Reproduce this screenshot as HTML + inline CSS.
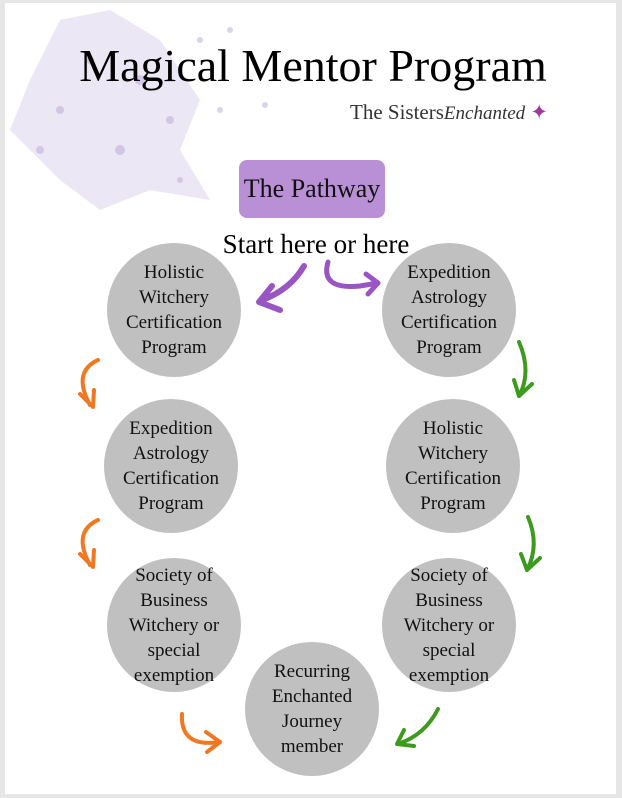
<!DOCTYPE html>
<html><head><meta charset="utf-8"><style>
html,body{margin:0;padding:0;}
body{width:622px;height:798px;background:#e6e6e6;position:relative;overflow:hidden;font-family:"Liberation Serif",serif;}
.page{position:absolute;left:5px;top:3px;width:611px;height:791px;background:#fff;}
.c{position:absolute;width:134px;height:134px;border-radius:50%;background:#c0c0c0;display:flex;align-items:center;justify-content:center;text-align:center;font-size:19px;line-height:25px;color:#111;}
.t{position:absolute;width:100%;text-align:center;color:#000;}
</style></head><body>
<div class="page"></div>
<svg width="622" height="798" style="position:absolute;left:0;top:0">
<g fill="#d8d0ea" opacity="0.5">
<polygon points="60,20 110,10 160,40 200,100 180,150 210,200 150,190 100,210 60,180 10,130 30,80"/>
</g>
<g fill="#b9a9d8" opacity="0.5">
<circle cx="90" cy="60" r="4"/><circle cx="140" cy="80" r="5"/><circle cx="60" cy="110" r="4"/><circle cx="120" cy="150" r="5"/><circle cx="170" cy="120" r="4"/><circle cx="200" cy="40" r="3"/><circle cx="230" cy="30" r="3"/><circle cx="180" cy="180" r="3"/><circle cx="40" cy="150" r="4"/><circle cx="220" cy="110" r="3"/><circle cx="265" cy="105" r="3"/>
</g>
<g fill="none" stroke-linecap="round" stroke-linejoin="round">
<path d="M304,266 Q290,290 262,300" stroke="#9a55c4" stroke-width="6"/>
<path d="M272,286 L259,302 L280,310" stroke="#9a55c4" stroke-width="6"/>
<path d="M328,262 Q320,290 360,286 L378,283" stroke="#9a55c4" stroke-width="5"/>
<path d="M366,274 L378,283 L368,294" stroke="#9a55c4" stroke-width="5"/>
<path d="M98,360 Q72,372 90,405" stroke="#f07820" stroke-width="4"/>
<path d="M80,394 L93,407 L94,390" stroke="#f07820" stroke-width="4"/>
<path d="M98,520 Q72,532 90,565" stroke="#f07820" stroke-width="4"/>
<path d="M80,554 L93,567 L94,550" stroke="#f07820" stroke-width="4"/>
<path d="M182,714 Q180,748 220,742" stroke="#f07820" stroke-width="4"/>
<path d="M206,732 L220,742 L207,752" stroke="#f07820" stroke-width="4"/>
<path d="M519,342 Q532,372 519,396" stroke="#3e9a1e" stroke-width="4"/>
<path d="M514,380 L519,396 L532,384" stroke="#3e9a1e" stroke-width="4"/>
<path d="M528,517 Q540,545 527,570" stroke="#3e9a1e" stroke-width="4"/>
<path d="M521,554 L527,570 L540,558" stroke="#3e9a1e" stroke-width="4"/>
<path d="M438,709 Q425,735 398,744" stroke="#3e9a1e" stroke-width="4"/>
<path d="M404,730 L397,744 L414,746" stroke="#3e9a1e" stroke-width="4"/>
</g>
</svg>
<div class="t" style="top:38px;font-size:46px;line-height:56px;left:2px;">Magical Mentor Program</div>
<div style="position:absolute;left:350px;top:100px;font-size:21px;color:#333;">The Sisters<i style="font-size:19px">Enchanted</i> <span style="color:#9a3aa0">✦</span></div>
<div style="position:absolute;left:239px;top:160px;width:146px;height:58px;border-radius:8px;background:#b98fd6;font-size:26px;line-height:58px;text-align:center;color:#111;">The Pathway</div>
<div class="t" style="top:228px;font-size:27px;line-height:32px;left:5px;">Start here or here</div>
<div class="c" style="left:107px;top:243px;">Holistic<br>Witchery<br>Certification<br>Program</div>
<div class="c" style="left:382px;top:243px;">Expedition<br>Astrology<br>Certification<br>Program</div>
<div class="c" style="left:104px;top:399px;">Expedition<br>Astrology<br>Certification<br>Program</div>
<div class="c" style="left:386px;top:399px;">Holistic<br>Witchery<br>Certification<br>Program</div>
<div class="c" style="left:107px;top:558px;">Society of<br>Business<br>Witchery or<br>special<br>exemption</div>
<div class="c" style="left:382px;top:558px;">Society of<br>Business<br>Witchery or<br>special<br>exemption</div>
<div class="c" style="left:245px;top:642px;">Recurring<br>Enchanted<br>Journey<br>member</div>
</body></html>
